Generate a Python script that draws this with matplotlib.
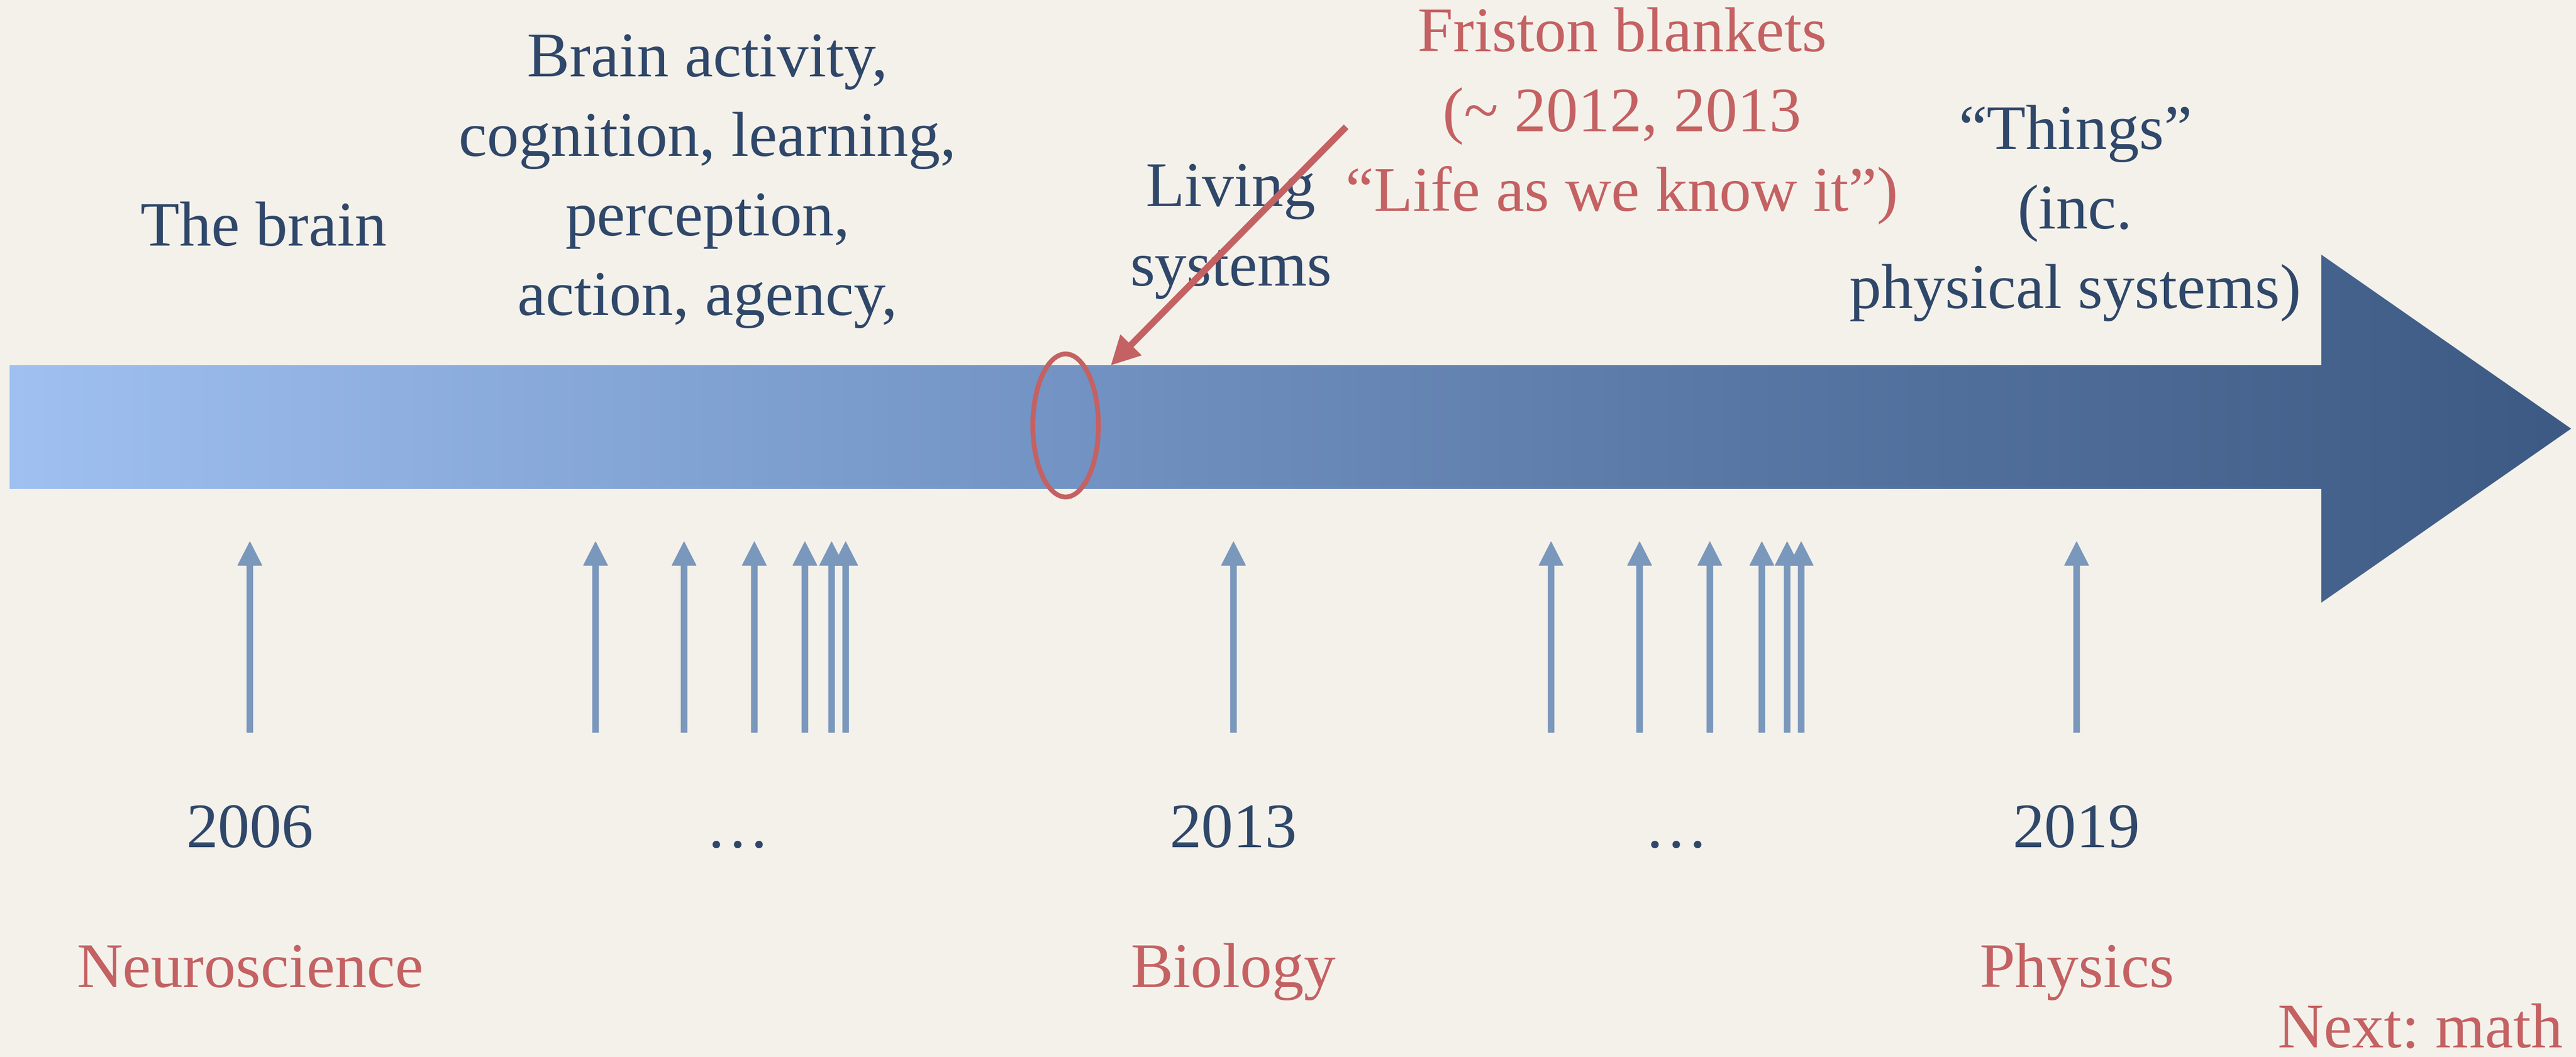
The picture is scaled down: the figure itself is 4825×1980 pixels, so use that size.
import numpy as np
import matplotlib.pyplot as plt
from matplotlib.patches import Polygon, Ellipse
from matplotlib.colors import LinearSegmentedColormap

plt.rcParams['font.family'] = ['Liberation Serif', 'DejaVu Serif']

# ---- data ----
# small arrows = papers, placed by (approximate) year
event_years = [2006,
               2008.46, 2009.09, 2009.59, 2009.95, 2010.14, 2010.24,
               2013,
               2015.26, 2015.89, 2016.39, 2016.76, 2016.94, 2017.04,
               2019]
year_pos = [2006, 2009.47, 2013, 2016.15, 2019]
year_labels = ["2006", "\u2026", "2013", "\u2026", "2019"]
field_years = [2006, 2013, 2019]
field_labels = ["Neuroscience", "Biology", "Physics"]

top_labels = ["The brain",
              "Brain activity,\ncognition, learning,\nperception,\naction, agency,",
              "Living\nsystems",
              "\u201cThings\u201d\n(inc.\nphysical systems)"]
friston_label = "Friston blankets\n(~ 2012, 2013\n\u201cLife as we know it\u201d)"

# ---- style ----
bg = '#f4f1eb'
dark = '#2f4769'
red = '#c46162'
small_arrow = '#7a97bc'
fs = 86

W, H = 4825, 1980
x2006, px_year = 468, 263.2

fig = plt.figure(figsize=(W / 100, H / 100), dpi=100)
fig.patch.set_facecolor(bg)

# decoration layer in pixel units
deco = fig.add_axes([0, 0, 1, 1])
deco.axis('off')

# big gradient arrow
pts = [(18, 684), (4348, 684), (4348, 477), (4816, 803),
       (4348, 1129), (4348, 916), (18, 916)]
poly = Polygon(pts, closed=True, facecolor='none', edgecolor='none')
deco.add_patch(poly)
cmap = LinearSegmentedColormap.from_list('bar', ['#9fc0f0', '#7a9ccd', '#5a78a5', '#3d5a84'])
grad = np.linspace(0, 1, 600).reshape(1, -1)
im = deco.imshow(grad, cmap=cmap, extent=(18, 4816, 1129, 477), aspect='auto', zorder=1)
im.set_clip_path(poly)
deco.set_xlim(0, W)
deco.set_ylim(H, 0)

# red ellipse + pointer
deco.add_patch(Ellipse((1996, 797), 123, 268, fill=False, edgecolor=red, lw=6.5, zorder=3))
deco.annotate('', xy=(2082, 683), xytext=(2521, 238),
              arrowprops=dict(arrowstyle='simple,head_length=37,head_width=39,tail_width=8',
                              mutation_scale=1, color=red, shrinkA=0, shrinkB=0),
              zorder=5)

# text above the bar
top_x = [494, 1325, 2305, 3887]
top_base = [460, 143, 386, 279]
for lab, x, y0 in zip(top_labels, top_x, top_base):
    for i, line in enumerate(lab.split('\n')):
        deco.text(x, y0 + i * 149, line, ha='center', va='baseline', fontsize=fs, color=dark, zorder=2)
for i, line in enumerate(friston_label.split('\n')):
    deco.text(3038, 96 + i * 149.5, line, ha='center', va='baseline', fontsize=fs, color=red, zorder=2)

deco.text(4800, 1962, "Next: math", ha='right', va='baseline', fontsize=fs, color=red)

# timeline layer in years
ax = fig.add_axes([0, 0, 1, 1])
ax.patch.set_alpha(0)
ax.axis('off')
ax.set_xlim(2006 - x2006 / px_year, 2006 + (W - x2006) / px_year)
ax.set_ylim(H, 0)

for yr in event_years:
    ax.annotate('', xy=(yr, 1015), xytext=(yr, 1372),
                arrowprops=dict(arrowstyle='simple,head_length=31.7,head_width=32.4,tail_width=7.9',
                                mutation_scale=1, color=small_arrow, shrinkA=0, shrinkB=0))

for yr, lab in zip(year_pos, year_labels):
    ax.text(yr, 1587, lab, ha='center', va='baseline', fontsize=fs, color=dark)
for yr, lab in zip(field_years, field_labels):
    ax.text(yr, 1849, lab, ha='center', va='baseline', fontsize=fs, color=red)

fig.savefig('out.png', dpi=100, facecolor=bg)
